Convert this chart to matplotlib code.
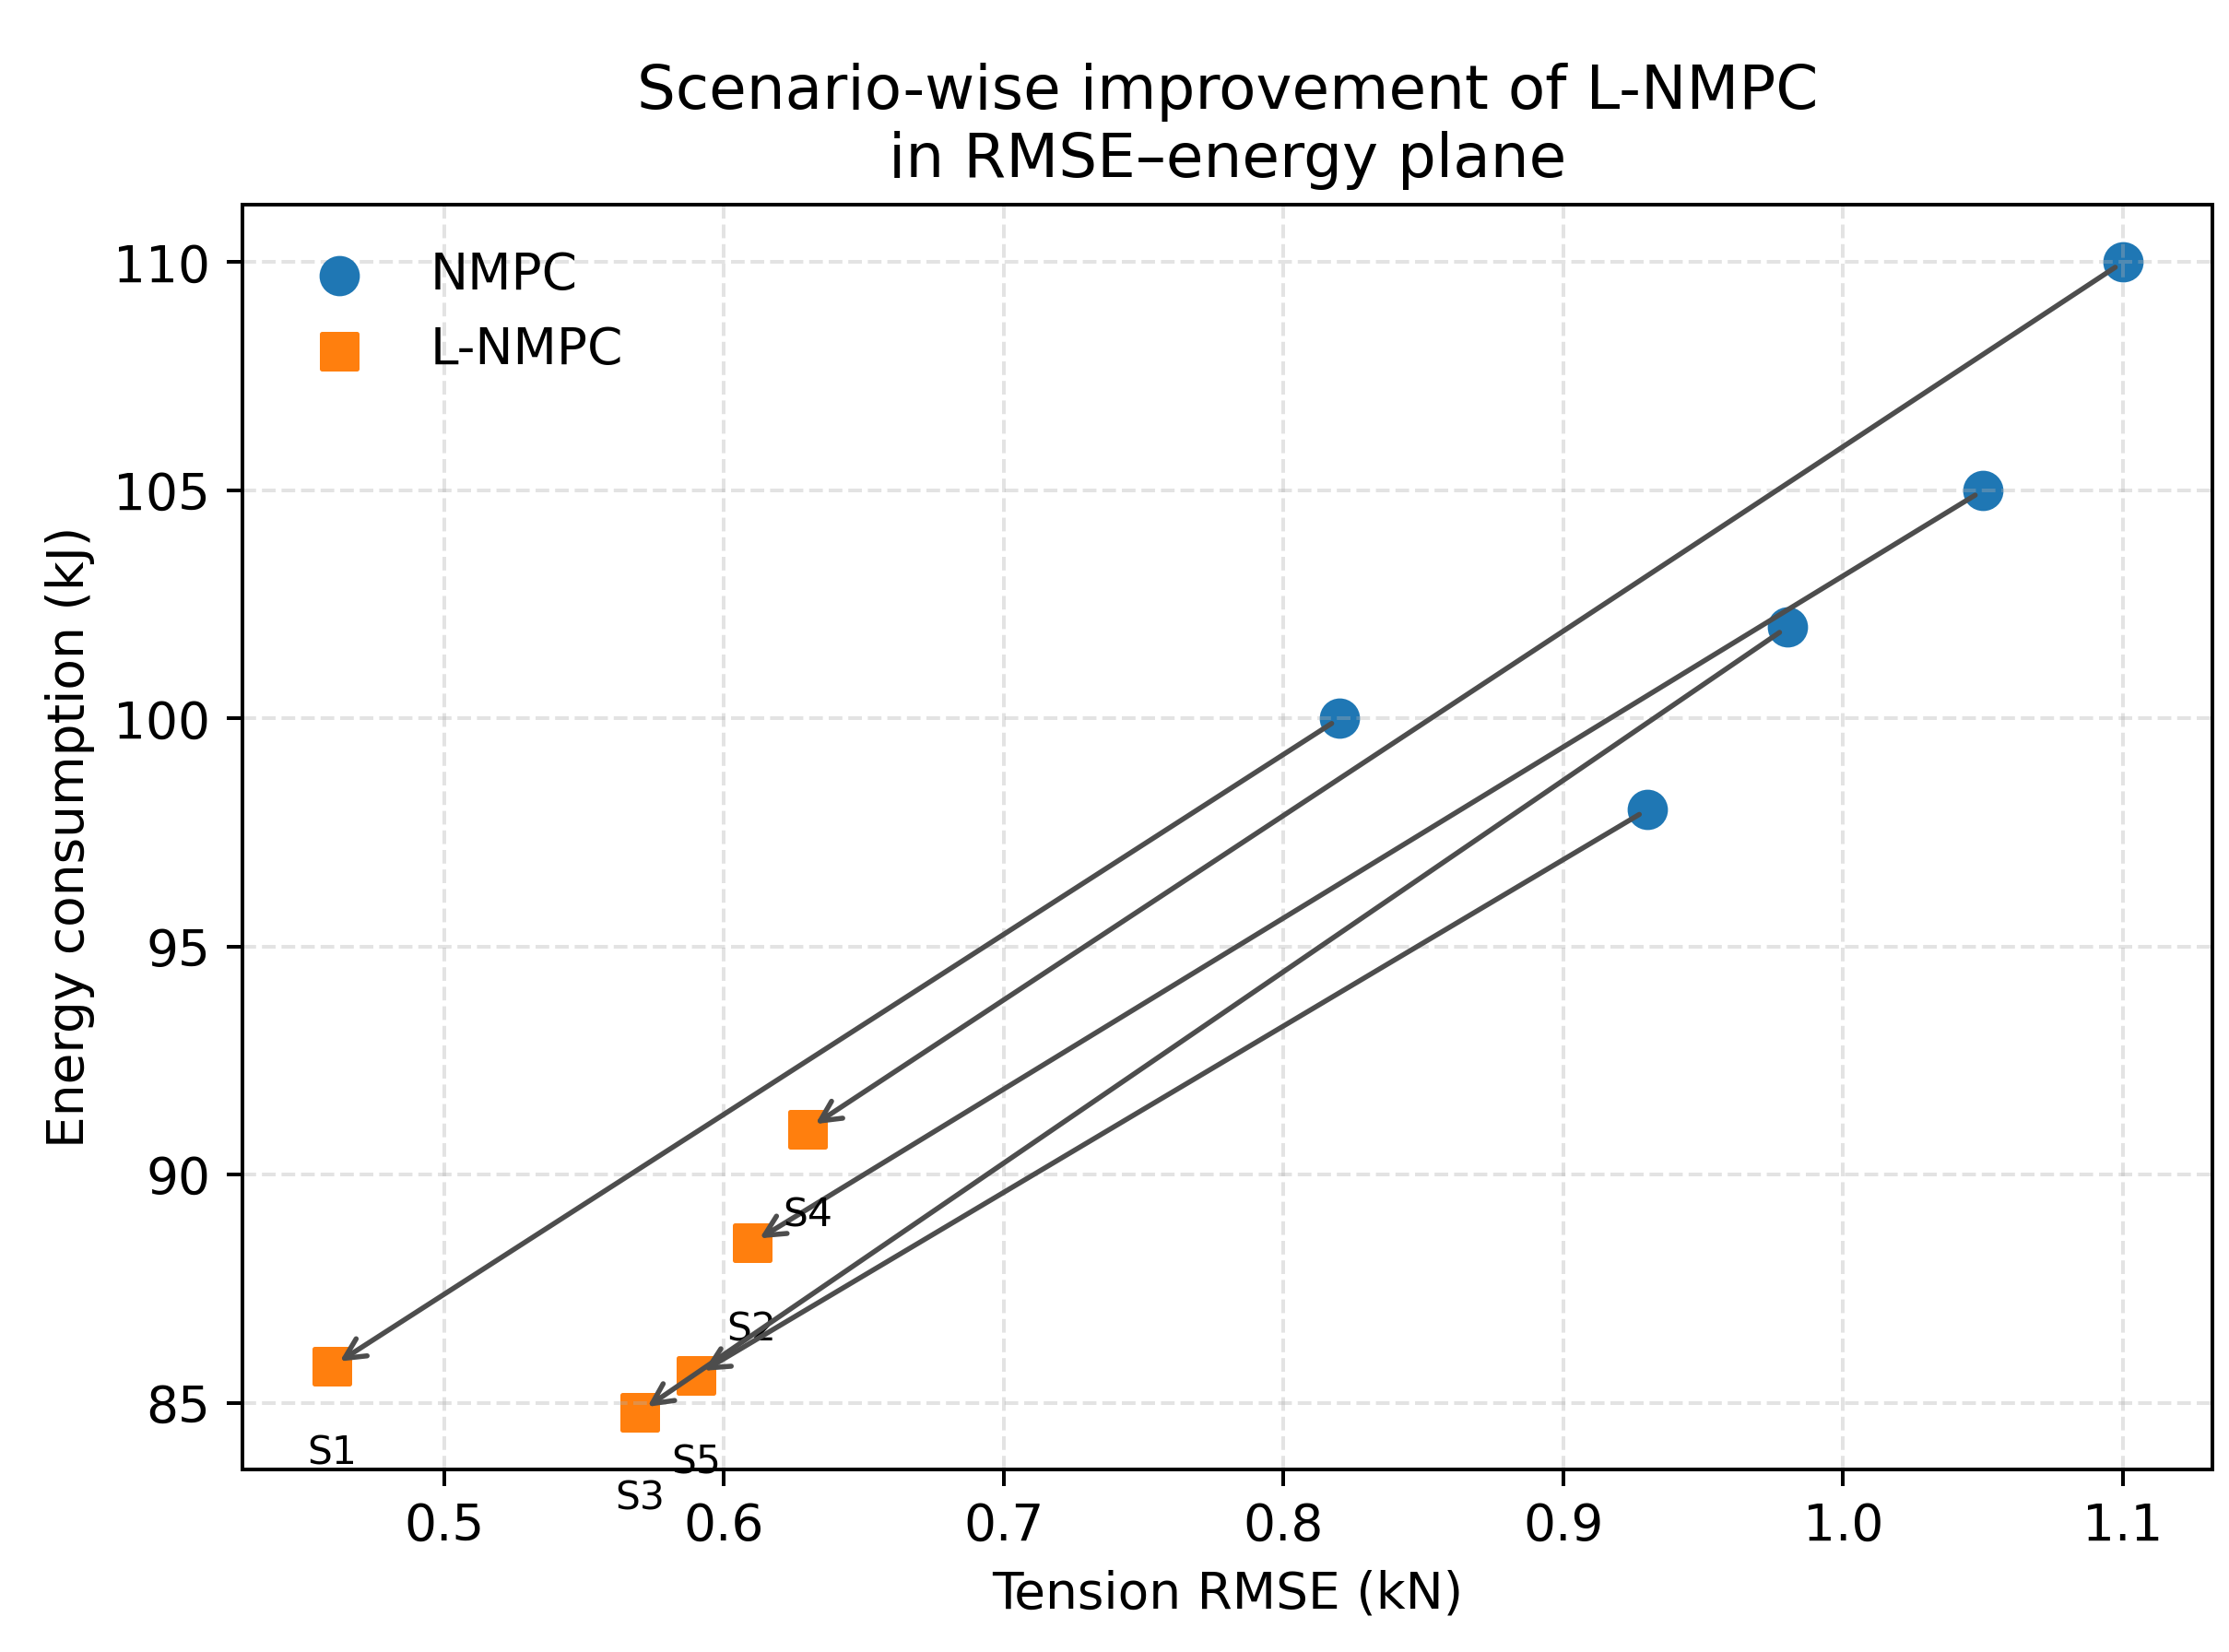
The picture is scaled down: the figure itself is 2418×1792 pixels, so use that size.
import numpy as np
import matplotlib
matplotlib.use("Agg")
from matplotlib import pyplot as plt

scenarios = ["S1", "S2", "S3", "S4", "S5"]
nmpc_rmse = [0.82, 1.05, 0.98, 1.10, 0.93]
nmpc_energy = [100.0, 105.0, 102.0, 110.0, 98.0]
lnmpc_rmse = [0.46, 0.61, 0.57, 0.63, 0.59]
lnmpc_energy = [85.8, 88.5, 84.8, 91.0, 85.6]

plt.rcParams["font.size"] = 11

fig, ax = plt.subplots(figsize=(2418 / 360, 1792 / 360), dpi=360)
fig.subplots_adjust(left=0.1088, right=0.9926, top=0.8761, bottom=0.1105)

ax.scatter(nmpc_rmse, nmpc_energy, s=60, marker="o", color="#1f77b4", label="NMPC")
ax.scatter(lnmpc_rmse, lnmpc_energy, s=60, marker="s", color="#ff7f0e", label="L-NMPC")

for name, x0, y0, x1, y1 in zip(scenarios, nmpc_rmse, nmpc_energy, lnmpc_rmse, lnmpc_energy):
    ax.annotate("", xy=(x1, y1), xytext=(x0, y0),
                arrowprops=dict(arrowstyle="->", color="0.3", lw=1.1))
    ax.text(x1, y1 - 1.9, name, ha="center", va="center", fontsize=8.5)

ax.grid(True, linestyle="--", alpha=0.35)
ax.set_xlabel("Tension RMSE (kN)")
ax.set_ylabel("Energy consumption (kJ)")
ax.set_title("Scenario-wise improvement of L-NMPC\nin RMSE\u2013energy plane", fontsize=13.2)
ax.legend(loc="upper left", frameon=False)

plt.savefig("out.png", dpi=360)
